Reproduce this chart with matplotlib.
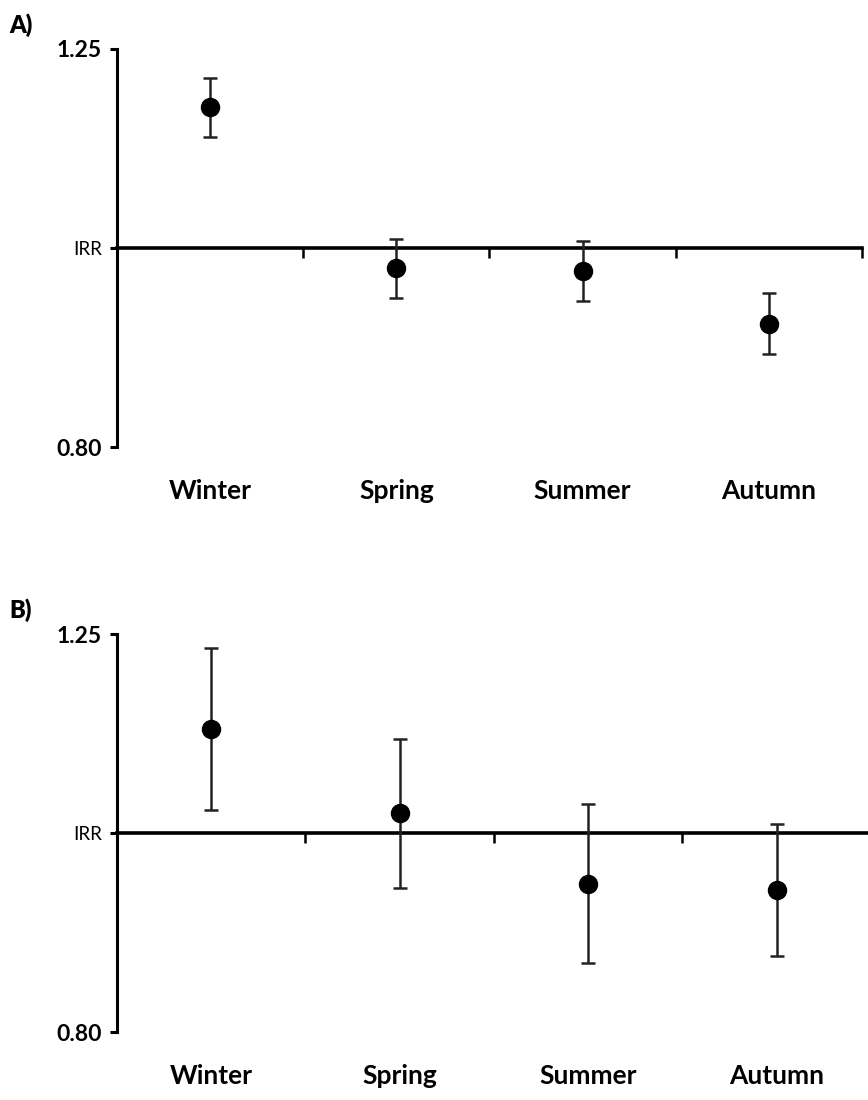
import matplotlib.pyplot as plt
from matplotlib.transforms import blended_transform_factory

seasons = ['Winter', 'Spring', 'Summer', 'Autumn']

# panel A: incidence rate ratios with 95% CI
irr_a = [1.171, 0.978, 0.974, 0.918]
low_a = [1.132, 0.945, 0.942, 0.888]
high_a = [1.210, 1.010, 1.008, 0.951]

# panel B
irr_b = [1.124, 1.023, 0.944, 0.938]
low_b = [1.026, 0.940, 0.864, 0.871]
high_b = [1.230, 1.111, 1.033, 1.010]

yticks = [0.80, 1.0, 1.25]
ytick_labels = ['0.80', 'IRR', '1.25']

plt.rcParams['font.family'] = ['Lato', 'DejaVu Sans']

fig = plt.figure(figsize=(8.68, 11.0), dpi=100)


def panel(rect, vals, lo, hi, tag):
    ax = fig.add_axes(rect)
    x = list(range(len(seasons)))
    err = [[v - l for v, l in zip(vals, lo)], [h - v for v, h in zip(vals, hi)]]
    ax.errorbar(x, vals, yerr=err, fmt='o', color='black', ecolor='#222222',
                elinewidth=1.8, capsize=5, capthick=1.8, markersize=13, zorder=3)
    ax.set_yscale('log')
    ax.set_ylim(0.80, 1.25)
    ax.set_xlim(-0.5, 3.5)
    ax.minorticks_off()
    ax.set_yticks(yticks)
    ax.set_yticklabels(ytick_labels)
    for lab in ax.get_yticklabels():
        if lab.get_text() == 'IRR':
            lab.set_fontsize(13.5)
        else:
            lab.set_fontsize(16.5)
            lab.set_fontweight('bold')
    ax.set_xticks([0.5, 1.5, 2.5, 3.5])
    ax.set_xticklabels([])
    ax.spines['top'].set_visible(False)
    ax.spines['right'].set_visible(False)
    ax.spines['bottom'].set_position(('data', 1.0))
    ax.spines['bottom'].set_linewidth(2.6)
    ax.spines['left'].set_linewidth(2.2)
    ax.tick_params(axis='y', direction='out', length=5, width=2.2, pad=6)
    ax.tick_params(axis='x', direction='out', length=7, width=1.8)
    tr = blended_transform_factory(ax.transData, ax.transAxes)
    for i, s in enumerate(seasons):
        ax.text(i, -0.11, s, transform=tr, ha='center', va='center',
                fontsize=19, fontweight='bold')
    fig.text(0.011, rect[1] + rect[3] + 0.022, tag, fontsize=17,
             fontweight='heavy', ha='left', va='center')
    return ax


panel([0.1348, 0.5936, 0.8582, 0.3619], irr_a, low_a, high_a, 'A)')
panel([0.1348, 0.0618, 0.8686, 0.3618], irr_b, low_b, high_b, 'B)')

fig.savefig('out.png', dpi=100)
